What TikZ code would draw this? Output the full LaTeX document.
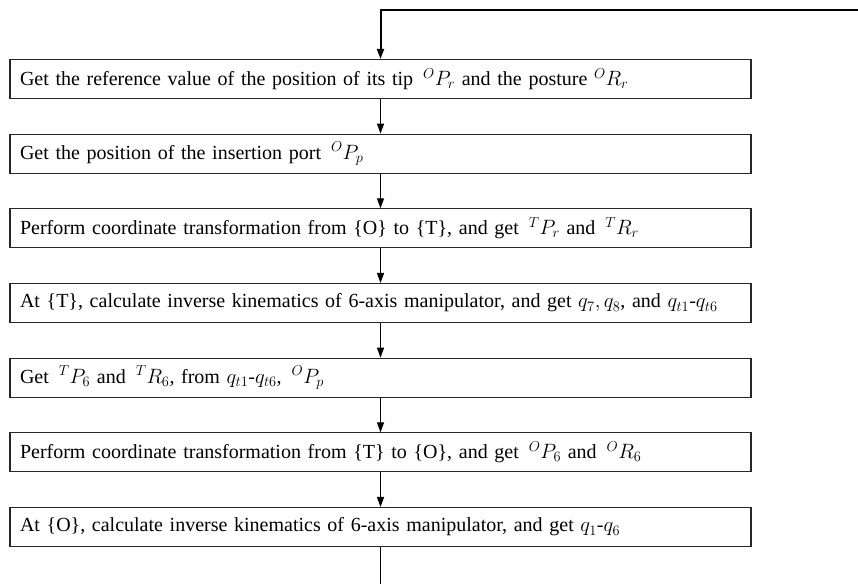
\documentclass[tikz,border=0pt]{standalone}
\usepackage{amsmath}
\usepackage{fontspec}
\setmainfont{Liberation Serif}
\usetikzlibrary{positioning,arrows.meta}

\tikzset{
    stepbox/.style={draw=black!85, line width=1.1pt, rectangle, minimum height=39pt,
        text width=721pt, inner xsep=10pt, align=left,
        font=\fontsize{20}{24}\selectfont},
    flow/.style={draw, line width=1.3pt, -{Triangle[length=10pt, width=7pt]}}
}

\begin{document}
\begin{tikzpicture}[x=1pt, y=1pt, node distance=74.67pt, on grid]
            \useasboundingbox (0, 0) rectangle (858, -584);

            \node[stepbox] (b1) at (380.5, -79) {Get the reference value of the position of its tip\, ${}^{O}P_{r}$ and the posture ${}^{O}R_{r}$};
            \node[stepbox, below=of b1] (b2) {Get the position of the insertion port\, ${}^{O}P_{p}$};
            \node[stepbox, below=of b2] (b3) {Perform coordinate transformation from \{O\} to \{T\}, and get\, ${}^{T}P_{r}$ and\, ${}^{T}R_{r}$};
            \node[stepbox, below=of b3] (b4) {At \{T\}, calculate inverse kinematics of 6-axis manipulator, and get $q_{7}, q_{8}$, and $q_{t1}$-$q_{t6}$};
            \node[stepbox, below=of b4] (b5) {Get\, ${}^{T}P_{6}$ and\, ${}^{T}R_{6}$, from $q_{t1}$-$q_{t6}$,\, ${}^{O}P_{p}$};
            \node[stepbox, below=of b5] (b6) {Perform coordinate transformation from \{T\} to \{O\}, and get\, ${}^{O}P_{6}$ and\, ${}^{O}R_{6}$};
            \node[stepbox, below=of b6] (b7) {At \{O\}, calculate inverse kinematics of 6-axis manipulator, and get $q_{1}$-$q_{6}$};

            % feedback line coming back in at the top
            \coordinate (loopin) at (858, -10);
            \coordinate (loopout) at (b7.south |- 0, -584);
            \draw[flow, line width=2pt] (loopin) -- (b1.north |- loopin) -- (b1.north);

            \draw[flow] (b1) -- (b2);
            \draw[flow] (b2) -- (b3);
            \draw[flow] (b3) -- (b4);
            \draw[flow] (b4) -- (b5);
            \draw[flow] (b5) -- (b6);
            \draw[flow] (b6) -- (b7);
            \draw[line width=1.3pt] (b7) -- (loopout);
        \end{tikzpicture}
\end{document}
